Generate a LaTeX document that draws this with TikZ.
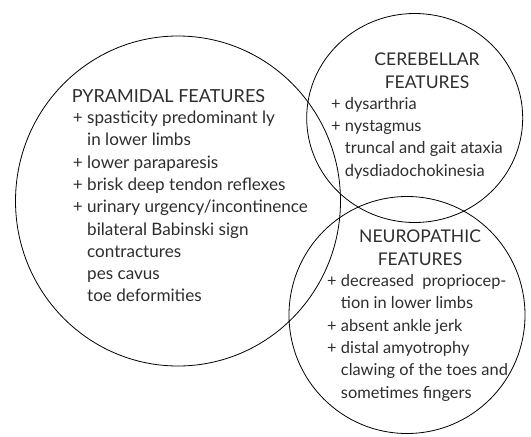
\documentclass[tikz,border=0pt]{standalone}
\usepackage{fontspec}
\setmainfont{Lato}
\usetikzlibrary{shapes.geometric,positioning}
\definecolor{myink}{RGB}{45,45,45}
\newcommand{\featind}{\phantom{+ }}
\tikzset{
  venn/.style={ellipse,draw=black,line width=0.8pt,inner sep=0pt,outer sep=0pt},
  grptitle/.style={align=center,inner sep=0pt,text=myink,
    font=\fontsize{17.5}{22.3}\selectfont},
  featlist/.style={align=left,inner sep=0pt,text=myink,
    font=\fontsize{16.4}{22.3}\selectfont},
}
\begin{document}
\begin{tikzpicture}[x=1pt,y=-1pt]
  \useasboundingbox (0,0) rectangle (531,437);
  % the three groups
  \node[venn,minimum width=325pt,minimum height=330pt] (pyr) at (178,201) {};
  \node[venn,minimum width=216pt,minimum height=209pt] (cer) at (414.7,118) {};
  \node[venn,minimum width=236pt,minimum height=237pt] (neu) at (407,315) {};
  % pyramidal (base = last line)
  \node[grptitle,anchor=base west,font=\fontsize{18}{22.3}\selectfont] (pyrtitle)
    at (71.7,102) {PYRAMIDAL FEATURES};
  \node[featlist,anchor=base west,font=\fontsize{17.1}{22.3}\selectfont] (pyrlist)
    at (72.7,301.9)
    {+ spasticity predominant ly\\ \featind in lower limbs\\
     + lower paraparesis\\ + brisk deep tendon reflexes\\
     + urinary urgency/incontinence\\ \featind bilateral Babinski sign\\
     \featind contractures\\ \featind pes cavus\\ \featind toe deformities};
  % cerebellar
  \node[grptitle,anchor=base] (certitle) at (427,88) {CEREBELLAR\\ FEATURES};
  \node[featlist,anchor=base west] (cerlist) at (331,176)
    {+ dysarthria\\ + nystagmus\\ \featind truncal and gait ataxia\\
     \featind dysdiadochokinesia};
  % neuropathic
  \node[grptitle,anchor=base] (neutitle) at (420,265) {NEUROPATHIC\\ FEATURES};
  \node[featlist,anchor=base west] (neulist) at (327,398)
    {+ decreased~ propriocep-\\ \featind tion in lower limbs\\
     + absent ankle jerk\\ + distal amyotrophy\\
     \featind clawing of the toes and\\ \featind sometimes fingers};
\end{tikzpicture}
\end{document}
